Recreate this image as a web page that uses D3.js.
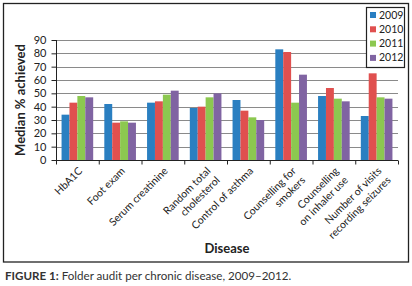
<!DOCTYPE html>
<html>
<head>
<meta charset="utf-8">
<script src="https://d3js.org/d3.v7.min.js"></script>
<style>
  body { margin: 0; background: #fff; }
  svg { display: block; font-family: Lato, "Open Sans", sans-serif; }
</style>
</head>
<body>
<script>
const categories = [
  ['HbA1C'],
  ['Foot exam'],
  ['Serum creatinine'],
  ['Random total', 'cholesterol'],
  ['Control of asthma'],
  ['Counselling for', 'smokers'],
  ['Counselling', 'on inhaler use'],
  ['Number of visits', 'recording seizures']
]
const years = ['2009', '2010', '2011', '2012']
const v2009 = [34, 42, 43, 39, 45, 83, 48, 33]
const v2010 = [43, 28, 44, 40, 37, 81, 54, 65]
const v2011 = [48, 29, 49, 47, 32, 43, 46, 47]
const v2012 = [47, 28, 52, 50, 30, 64, 44, 46]
const yTicks = [0, 10, 20, 30, 40, 50, 60, 70, 80, 90]
const colors = ['#2a7fc1', '#e0504f', '#8cc850', '#8064a2']

const series = [v2009, v2010, v2011, v2012]
const width = 412, height = 286
const mLeft = 56, mRight = 398, mTop = 40, mBottom = 160

const svg = d3.select('body').append('svg').attr('width', width).attr('height', height)

// outer frame
svg.append('rect').attr('x', 3.5).attr('y', 3.5).attr('width', 405).attr('height', 258.5)
  .attr('fill', 'none').attr('stroke', '#222').attr('stroke-width', 1.3)

const x = d3.scaleBand().domain(d3.range(categories.length)).range([mLeft, mRight]).paddingInner(0.26).paddingOuter(0.13)
const xs = d3.scaleBand().domain(d3.range(years.length)).range([0, x.bandwidth()])
const y = d3.scaleLinear().domain([0, 90]).range([mBottom, mTop])

// gridlines
svg.append('g').selectAll('line').data(yTicks.slice(1)).join('line')
  .attr('x1', mLeft).attr('x2', mRight)
  .attr('y1', d => Math.round(y(d)) + 0.5).attr('y2', d => Math.round(y(d)) + 0.5)
  .attr('stroke', '#8a8a8a').attr('stroke-width', 1)

// bars
const groups = svg.append('g').selectAll('g').data(categories).join('g')
  .attr('transform', (d, i) => `translate(${x(i)},0)`)
groups.selectAll('rect').data((d, i) => series.map((s, k) => ({ k, v: s[i] }))).join('rect')
  .attr('x', d => xs(d.k)).attr('width', xs.bandwidth())
  .attr('y', d => y(d.v)).attr('height', d => y(0) - y(d.v))
  .attr('fill', d => colors[d.k])

// y axis
const yAxis = svg.append('g').attr('transform', `translate(${mLeft + 0.5},0)`)
  .call(d3.axisLeft(y).tickValues(yTicks).tickSize(5).tickPadding(5))
yAxis.select('.domain').attr('d', `M0,${mTop}V${mBottom}`)
yAxis.selectAll('line, path').attr('stroke', '#222')
yAxis.selectAll('text').attr('font-size', 11).attr('fill', '#222').attr('font-family', 'Lato, sans-serif')

// x axis with boundary ticks
const xAxis = svg.append('g').attr('transform', `translate(0,${mBottom + 0.5})`)
xAxis.append('line').attr('x1', mLeft).attr('x2', mRight).attr('stroke', '#222')
const step = (mRight - mLeft) / categories.length
xAxis.selectAll('.tk').data(d3.range(categories.length + 1)).join('line')
  .attr('x1', i => mLeft + i * step + 0.5).attr('x2', i => mLeft + i * step + 0.5)
  .attr('y1', 0).attr('y2', 4).attr('stroke', '#222')

// category labels
categories.forEach((lines, i) => {
  const cx = x(i) + x.bandwidth() / 2 + 3
  const t = svg.append('text')
    .attr('transform', `translate(${cx},${mBottom + 9}) rotate(-45)`)
    .attr('text-anchor', 'end').attr('font-size', 10.5).attr('fill', '#222')
  lines.forEach((ln, j) => {
    t.append('tspan').attr('x', 0)
      .attr('dy', j === 0 ? '0.35em' : '1.25em')
      .text(ln)
  })
})

// axis titles
svg.append('text').attr('transform', `translate(25,${(mTop + mBottom) / 2}) rotate(-90)`)
  .attr('text-anchor', 'middle').attr('font-weight', 'bold').attr('font-size', 13).attr('fill', '#222')
  .text('Median % achieved')
svg.append('text').attr('x', (mLeft + mRight) / 2).attr('y', 253)
  .attr('text-anchor', 'middle').attr('font-weight', 'bold').attr('font-size', 13).attr('fill', '#222')
  .text('Disease')

// legend
const lg = svg.append('g').attr('transform', 'translate(366,7)')
lg.append('rect').attr('x', 0.5).attr('y', 0.5).attr('width', 38).attr('height', 60)
  .attr('fill', '#fff').attr('stroke', '#222').attr('stroke-width', 1.2)
years.forEach((yr, k) => {
  lg.append('rect').attr('x', 4).attr('y', 8 + k * 14.3 - 3).attr('width', 6).attr('height', 6).attr('fill', colors[k])
  lg.append('text').attr('x', 13).attr('y', 8 + k * 14.3 + 3.5).attr('font-size', 10.5).attr('fill', '#222').text(yr)
})

// caption
const cap = svg.append('text').attr('x', 5).attr('y', 280).attr('font-size', 11.6).attr('fill', '#333')
cap.append('tspan').attr('font-weight', 'bold').text('FIGURE 1:')
cap.append('tspan').text(' Folder audit per chronic disease, 2009–2012.')
</script>
</body>
</html>
